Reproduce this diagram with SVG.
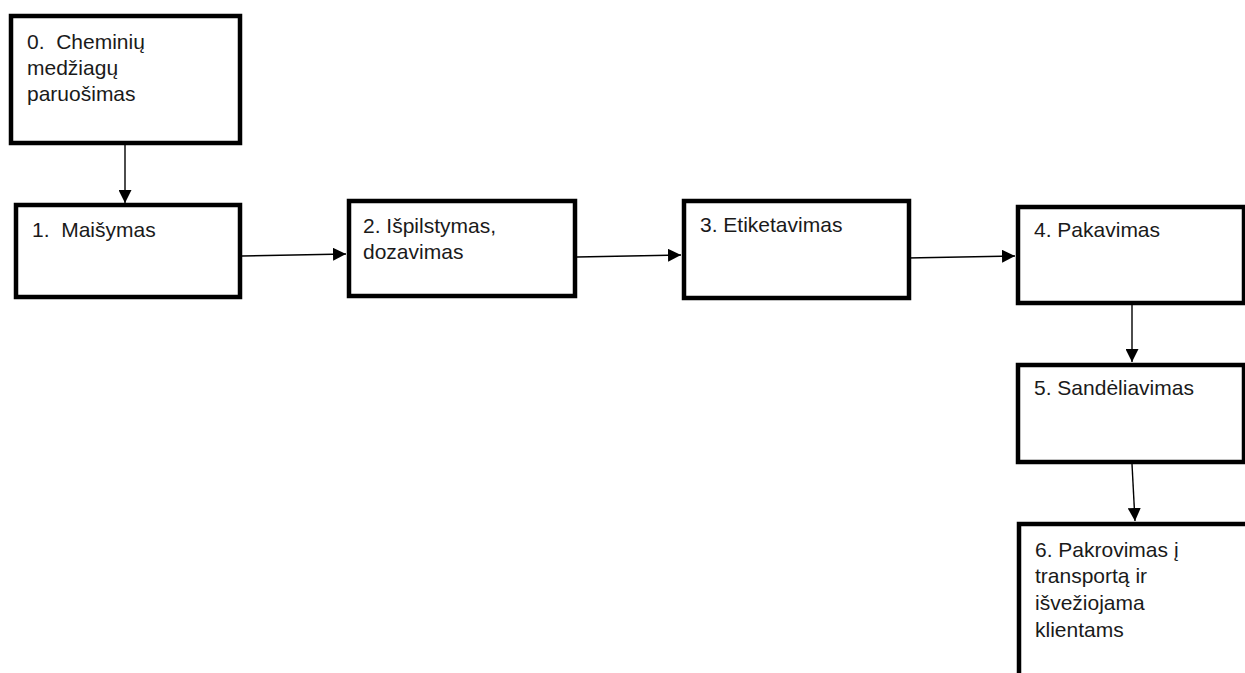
<svg xmlns="http://www.w3.org/2000/svg" width="1245" height="673" viewBox="0 0 1245 673">
<style>
.box{fill:#fff;stroke:#000;stroke-width:4.5}
.t{font-family:"Liberation Sans",Arial,sans-serif;font-size:21px;fill:#1a1a1a;white-space:pre}
.c{stroke:#000;stroke-width:1.4;fill:none;marker-end:url(#ah)}
</style>
<defs>
<marker id="ah" viewBox="0 0 12 12" refX="12" refY="6" markerWidth="13" markerHeight="13" markerUnits="userSpaceOnUse" orient="auto">
<path d="M0,0 L12,6 L0,12 Z" fill="#000"/>
</marker>
</defs>
<rect width="1245" height="673" fill="#fff"/>
<g id="connectors">
<line class="c" x1="125" y1="145" x2="125" y2="203"/>
<line class="c" x1="242" y1="256" x2="346" y2="254"/>
<line class="c" x1="577" y1="257" x2="681" y2="255"/>
<line class="c" x1="907" y1="258" x2="1015" y2="256"/>
<line class="c" x1="1132" y1="305" x2="1132" y2="362"/>
<line class="c" x1="1132" y1="464" x2="1135" y2="521"/>
</g>
<g id="node0">
<rect class="box" x="11" y="16" width="229" height="127"/>
<text class="t" x="27" y="49" xml:space="preserve">0.  Cheminių</text>
<text class="t" x="27" y="75">medžiagų</text>
<text class="t" x="27" y="101">paruošimas</text>
</g>
<g id="node1">
<rect class="box" x="16" y="205" width="224" height="92"/>
<text class="t" x="32" y="237" xml:space="preserve">1.  Maišymas</text>
</g>
<g id="node2">
<rect class="box" x="349" y="201" width="226" height="95"/>
<text class="t" x="363" y="233">2. Išpilstymas,</text>
<text class="t" x="363" y="259">dozavimas</text>
</g>
<g id="node3">
<rect class="box" x="684" y="201" width="225" height="97"/>
<text class="t" x="700" y="232">3. Etiketavimas</text>
</g>
<g id="node4">
<rect class="box" x="1018" y="207" width="226" height="96"/>
<text class="t" x="1034" y="237">4. Pakavimas</text>
</g>
<g id="node5">
<rect class="box" x="1018" y="365" width="226" height="97"/>
<text class="t" x="1034" y="395">5. Sandėliavimas</text>
</g>
<g id="node6">
<rect class="box" x="1019" y="524" width="240" height="170"/>
<text class="t" x="1035" y="557">6. Pakrovimas į</text>
<text class="t" x="1035" y="583">transportą ir</text>
<text class="t" x="1035" y="610">išvežiojama</text>
<text class="t" x="1035" y="637">klientams</text>
</g>
</svg>
